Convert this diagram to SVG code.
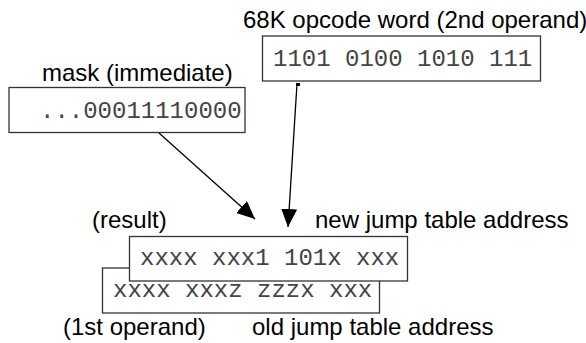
<svg xmlns="http://www.w3.org/2000/svg" width="586" height="343" viewBox="0 0 586 343">
<style>
.lbl{font-family:"Liberation Sans",Arial,sans-serif;font-size:24px;fill:#000}
.mono{font-family:"Liberation Mono","Courier New",monospace;font-size:24px;fill:#444}
.box{fill:#fff;stroke:#333;stroke-width:1.3}
.conn{stroke:#000;stroke-width:1.3;fill:none}
</style>
<defs>
<marker id="ah" markerUnits="userSpaceOnUse" markerWidth="20" markerHeight="16" refX="18" refY="8" orient="auto">
<path d="M0,0 L18,8 L0,16 Z" fill="#000"/>
</marker>
<marker id="dot" markerUnits="userSpaceOnUse" markerWidth="5" markerHeight="5" refX="1" refY="1" orient="0">
<rect x="0" y="0" width="4" height="3" fill="#000"/>
</marker>
</defs>
<g id="mask">
<text class="lbl" x="42" y="81">mask (immediate)</text>
<rect class="box" x="9" y="87.5" width="236" height="45"/>
<text class="mono" x="40" y="118">...00011110000</text>
</g>
<g id="opcode">
<text class="lbl" x="243" y="28">68K opcode word (2nd operand)</text>
<rect class="box" x="262.5" y="36" width="278" height="45"/>
<text class="mono" x="273" y="66">1101 0100 1010 111</text>
</g>
<g id="operand">
<rect class="box" x="102.5" y="268" width="277" height="45"/>
<text class="mono" x="113" y="297">xxxx xxxz zzzx xxx</text>
<text class="lbl" x="63" y="335">(1st operand)</text>
<text class="lbl" x="252" y="335">old jump table address</text>
</g>
<g id="result">
<rect class="box" x="129.5" y="236.5" width="278" height="44.5"/>
<text class="mono" x="140" y="265">xxxx xxx1 101x xxx</text>
<text class="lbl" x="92" y="228">(result)</text>
<text class="lbl" x="315" y="228">new jump table address</text>
</g>
<g id="connectors">
<line class="conn" x1="159" y1="133" x2="255" y2="219" marker-end="url(#ah)"/>
<line class="conn" x1="297" y1="84" x2="288" y2="227" marker-end="url(#ah)" marker-start="url(#dot)"/>
</g>
</svg>
